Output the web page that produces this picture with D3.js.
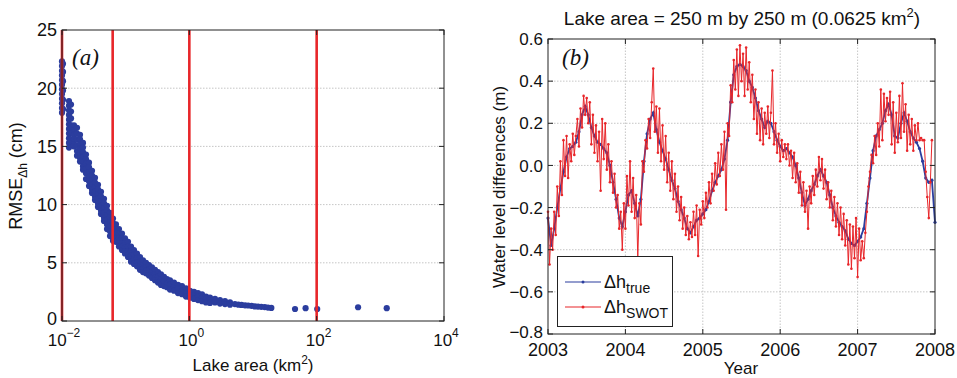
<!DOCTYPE html>
<html><head><meta charset="utf-8">
<script src="https://cdn.jsdelivr.net/npm/d3@7"></script>
<style>
body{margin:0;background:#fff}
text{font-family:"Liberation Sans",Arial,Helvetica,sans-serif;fill:#111}
</style></head>
<body><svg id="c" width="957" height="378"></svg>
<script>
// ---------------- Panel (a) data ----------------
const areaColumns = [0.0100,0.01037,0.01288,0.01385,0.01543,0.0172,0.01918,0.02137,0.02382,0.02656,
  0.0296,0.03299,0.03677,0.04098,0.04568,0.05091,0.05675,0.06324,0.07049,0.07856,
  0.08757,0.0976,0.1088,0.1213,0.1351,0.1506,0.1679,0.1871,0.2086,0.2325,
  0.2591,0.2888,0.3219,0.3588,0.3999,0.4457,0.4968,0.5742,0.6636,0.7668,
  0.8862,1.024,1.184,1.368,1.581,1.827,2.111,2.529,3.03,3.632,4.352];
const rmseColumns = [
  [22.3,21.9,21.5,21.1,20.7,20.3,19.9,19.5,19.1,18.7,18.3,17.9],
  [22.1,21.4,20.6,19.8,19.0,18.2],
  [18.9,18.5,18.1,17.7,17.3,16.9,16.5,16.1,15.7,15.3,14.9],
  [18.6,18.0,17.4,16.8,16.2,15.6],
  [16.8,16.4,16.0,15.6,15.2,15.0],
  [16.6,16.1,15.6,15.1,14.6,14.2],
  [16.0,15.6,15.2,14.8,14.4,14.0,13.7],
  [15.3,14.9,14.5,14.1,13.7,13.3,13.0],
  [14.3,13.9,13.5,13.1,12.7,12.2],
  [13.6,13.2,12.8,12.4,12.0,11.6],
  [12.9,12.5,12.1,11.7,11.3,11.0],
  [12.3,11.9,11.5,11.1,10.7,10.4],
  [11.7,11.3,10.9,10.5,10.1,9.8],
  [11.1,10.7,10.3,9.9,9.5,9.2],
  [10.5,10.1,9.7,9.3,8.9,8.6],
  [9.9,9.5,9.1,8.7,8.3,7.9],
  [9.3,8.9,8.5,8.1,7.7,7.3],
  [8.8,8.4,8.0,7.6,7.2,6.9],
  [8.3,7.9,7.5,7.1,6.8],
  [7.9,7.5,7.1,6.7,6.4],
  [7.5,7.1,6.7,6.4,6.1],
  [7.1,6.7,6.3,6.0,5.8],
  [6.8,6.4,6.0,5.7,5.5],
  [6.4,6.0,5.6,5.3,5.1],
  [6.1,5.7,5.3,4.9],
  [5.8,5.4,5.0,4.7],
  [5.5,5.1,4.7,4.4],
  [5.2,4.8,4.5,4.2],
  [5.0,4.6,4.3,4.1],
  [4.8,4.4,4.1,3.9],
  [4.6,4.2,3.9,3.7],
  [4.4,4.0,3.7,3.5],
  [4.2,3.8,3.5,3.3],
  [4.0,3.6,3.3,3.1],
  [3.8,3.4,3.0],
  [3.6,3.2,2.9],
  [3.5,3.1,2.7],
  [3.3,2.9,2.6],
  [3.1,2.8,2.4],
  [3.0,2.6,2.3],
  [2.8,2.4,2.1],
  [2.6,2.3,2.0],
  [2.5,2.2,1.9],
  [2.4,2.1,1.8],
  [2.3,2.0,1.7],
  [2.1,1.9,1.6],
  [2.0,1.8,1.55],
  [1.9,1.6],
  [1.8,1.5],
  [1.7,1.45],
  [1.6,1.4]
];
const sparseArea = [5.2,5.9,6.6,7.5,8.4,9.5,10.7,12.0,13.5,15.3,17.2,19.4,45.7,67,102,447,1260];
const sparseRmse = [1.45,1.4,1.38,1.35,1.33,1.3,1.25,1.24,1.22,1.2,1.15,1.12,1.03,1.1,1.03,1.18,1.1];
const markedAreas = [0.01, 0.0625, 1, 100];
const xTicksA = [0.01, 1, 100, 10000];
const xTickExpA = ["\u22122", "0", "2", "4"];
const yTicksA = [0, 5, 10, 15, 20, 25];

// ---------------- Panel (b) data ----------------
const trueValues = [-0.25,-0.38,-0.30,-0.20,-0.11,-0.03,0.04,0.08,0.09,0.11,
  0.16,0.24,0.28,0.24,0.18,0.14,0.11,0.10,0.08,0.06,
  0.00,-0.08,-0.16,-0.25,-0.29,-0.22,-0.14,-0.12,-0.18,-0.24,
  -0.16,0.02,0.15,0.22,0.25,0.17,0.11,0.07,0.03,-0.02,
  -0.07,-0.11,-0.17,-0.21,-0.25,-0.30,-0.32,-0.29,-0.26,-0.25,
  -0.23,-0.21,-0.17,-0.12,-0.08,-0.05,-0.02,0.03,0.12,0.30,
  0.43,0.47,0.48,0.47,0.45,0.40,0.37,0.32,0.26,0.22,
  0.18,0.21,0.20,0.16,0.12,0.09,0.07,0.08,0.06,0.04,
  0.00,-0.06,-0.13,-0.19,-0.16,-0.12,-0.09,-0.05,-0.02,-0.05,
  -0.08,-0.14,-0.20,-0.24,-0.27,-0.29,-0.31,-0.35,-0.37,-0.38,
  -0.36,-0.34,-0.30,-0.18,-0.06,0.07,0.14,0.17,0.20,0.26,
  0.29,0.24,0.14,0.13,0.20,0.25,0.21,0.16,0.13,0.11,
  0.08,0.02,-0.06,-0.08,-0.07,-0.27];
const trueStep = 0.04; // years between samples, starting 2003.0
const swotValues = [-0.22,-0.47,-0.30,-0.40,-0.22,-0.33,-0.10,-0.24,0.02,-0.14,
  0.12,-0.05,0.14,-0.06,0.10,0.02,0.15,0.05,0.14,0.22,
  0.09,0.27,0.18,0.33,0.24,0.32,0.20,0.30,0.10,0.24,
  0.06,0.19,0.02,0.16,-0.12,0.22,0.03,0.20,-0.02,0.10,
  -0.08,0.02,-0.13,-0.04,-0.20,-0.14,-0.30,-0.22,-0.40,-0.18,
  -0.30,-0.05,-0.19,0.02,-0.22,-0.06,-0.25,-0.14,-0.44,-0.18,
  -0.28,0.02,-0.03,0.12,0.08,0.22,0.13,0.30,0.46,0.16,
  0.28,0.06,0.27,0.02,0.19,-0.02,0.14,-0.08,0.06,-0.12,
  0.02,-0.16,-0.04,-0.22,-0.10,-0.26,-0.15,-0.30,-0.20,-0.33,
  -0.24,-0.35,-0.27,-0.34,-0.22,-0.33,-0.19,-0.43,-0.21,-0.28,
  -0.17,-0.25,-0.13,-0.20,-0.08,-0.18,-0.04,-0.12,0.01,-0.09,
  0.06,-0.05,0.10,-0.02,0.16,-0.21,0.20,0.14,0.38,0.30,
  0.50,0.36,0.55,0.33,0.57,0.40,0.53,0.33,0.56,0.36,
  0.49,0.30,0.43,0.22,0.36,0.15,0.30,0.12,0.27,0.10,
  0.25,0.15,0.28,0.13,0.25,0.45,0.10,0.20,0.06,0.15,
  0.02,0.12,0.04,0.10,0.03,0.10,0.00,0.07,-0.06,0.06,
  -0.08,0.01,-0.13,-0.03,-0.19,-0.08,-0.22,-0.12,-0.30,-0.10,
  -0.18,-0.05,-0.14,-0.02,-0.10,0.04,-0.07,0.03,-0.11,-0.02,
  -0.16,-0.08,-0.20,-0.12,-0.26,-0.15,-0.29,-0.18,-0.33,-0.20,
  -0.35,-0.23,-0.38,-0.26,-0.47,-0.28,-0.49,-0.29,-0.44,-0.25,
  -0.53,-0.30,-0.45,-0.36,-0.44,-0.32,-0.22,-0.10,-0.03,0.05,
  0.01,0.14,0.05,0.20,0.09,0.36,0.12,0.34,0.21,0.32,
  0.24,0.35,0.10,0.30,0.06,0.25,0.11,0.33,0.13,0.39,
  0.16,0.29,0.07,0.24,0.10,0.22,0.07,0.19,0.12,0.20,
  0.12,0.13,0.12,0.12,-0.03,-0.15,-0.25,-0.08,0.12];
const swotStep = 0.02;
const startYear = 2003;
const yearTicks = [2003, 2004, 2005, 2006, 2007, 2008];
const yTicksB = [-0.8, -0.6, -0.4, -0.2, 0.0, 0.2, 0.4, 0.6];
const titleB = "Lake area = 250 m by 250 m (0.0625 km";

// ---------------- drawing ----------------
const svg = d3.select("#c");
const BLUE = "#2b3d9e", RED = "#e8262a", GRID = "#b8b8b8";
const FS = 17;

function frame(g, x0, x1, y0, y1) {
  g.append("rect").attr("x", x0).attr("y", y0).attr("width", x1 - x0).attr("height", y1 - y0)
    .attr("fill", "none").attr("stroke", "#222").attr("stroke-width", 1);
}
function inwardTicks(g, xs, ys, x0, x1, y0, y1) {
  const L = 5;
  xs.forEach(px => {
    g.append("line").attr("x1", px).attr("x2", px).attr("y1", y1).attr("y2", y1 - L).attr("stroke", "#222");
    g.append("line").attr("x1", px).attr("x2", px).attr("y1", y0).attr("y2", y0 + L).attr("stroke", "#222");
  });
  ys.forEach(py => {
    g.append("line").attr("y1", py).attr("y2", py).attr("x1", x0).attr("x2", x0 + L).attr("stroke", "#222");
    g.append("line").attr("y1", py).attr("y2", py).attr("x1", x1).attr("x2", x1 - L).attr("stroke", "#222");
  });
}

// ===== Panel (a) =====
const xa = d3.scaleLog().domain([0.01, 10000]).range([62, 444]);
const ya = d3.scaleLinear().domain([0, 25]).range([321, 30]);
const ga = svg.append("g");

ga.selectAll(".gy").data(yTicksA.filter(v => v > 0 && v < 25)).join("line")
  .attr("x1", xa.range()[0]).attr("x2", xa.range()[1])
  .attr("y1", d => ya(d)).attr("y2", d => ya(d))
  .attr("stroke", GRID).attr("stroke-width", 0.8).attr("stroke-dasharray", "1.5,1.5");
ga.selectAll(".gx").data(xTicksA.slice(1, -1)).join("line")
  .attr("x1", d => xa(d)).attr("x2", d => xa(d))
  .attr("y1", ya.range()[0]).attr("y2", ya.range()[1])
  .attr("stroke", GRID).attr("stroke-width", 0.8).attr("stroke-dasharray", "1.5,1.5");

const ptsA = [];
areaColumns.forEach((a, i) => rmseColumns[i].forEach(v => ptsA.push([a, v])));
sparseArea.forEach((a, i) => ptsA.push([a, sparseRmse[i]]));
ga.selectAll(".pt").data(ptsA).join("circle")
  .attr("cx", d => xa(d[0])).attr("cy", d => ya(d[1])).attr("r", 3.1)
  .attr("fill", BLUE);

ga.selectAll(".rl").data(markedAreas).join("line")
  .attr("x1", d => xa(d)).attr("x2", d => xa(d))
  .attr("y1", ya(0)).attr("y2", ya(25))
  .attr("stroke", RED).attr("stroke-width", 2.6);

frame(ga, 62, 444, 30, 321);
inwardTicks(ga, xTicksA.map(xa), yTicksA.map(ya), 62, 444, 30, 321);

ga.selectAll(".yl").data(yTicksA).join("text")
  .attr("x", 57).attr("y", d => ya(d) - (d === 0 ? 2 : 0)).attr("dy", "0.36em")
  .attr("text-anchor", "end").attr("font-size", 18).text(d => d);
xTicksA.forEach((v, i) => {
  const t = ga.append("text").attr("x", xa(v) + 2).attr("y", 346).attr("text-anchor", "middle").attr("font-size", 17);
  t.append("tspan").text("10");
  t.append("tspan").attr("dy", -9).attr("font-size", 12).text(xTickExpA[i]);
});
{
  const t = ga.append("text").attr("x", 253).attr("y", 371).attr("text-anchor", "middle").attr("font-size", FS);
  t.append("tspan").text("Lake area (km");
  t.append("tspan").attr("dy", -7).attr("font-size", 12).text("2");
  t.append("tspan").attr("dy", 7).text(")");
}
{
  const t = ga.append("text").attr("transform", "translate(22,176) rotate(-90)")
    .attr("text-anchor", "middle").attr("font-size", 18);
  t.append("tspan").text("RMSE");
  t.append("tspan").attr("dy", 5).attr("font-size", 12).text("\u0394h");
  t.append("tspan").attr("dy", -5).text(" (cm)");
}
ga.append("text").attr("x", 72).attr("y", 65)
  .style("font-family", '"Liberation Serif","Times New Roman",serif').style("font-style", "italic")
  .attr("font-size", 23).text("(a)");

// ===== Panel (b) =====
const xb = d3.scaleLinear().domain([2003, 2008]).range([548, 935]);
const yb = d3.scaleLinear().domain([-0.8, 0.6]).range([334, 39]);
const gb = svg.append("g");

gb.selectAll(".gy").data(yTicksB.slice(1, -1)).join("line")
  .attr("x1", xb.range()[0]).attr("x2", xb.range()[1])
  .attr("y1", d => yb(d)).attr("y2", d => yb(d))
  .attr("stroke", GRID).attr("stroke-width", 0.8).attr("stroke-dasharray", "1.5,1.5");
gb.selectAll(".gx").data(yearTicks.slice(1, -1)).join("line")
  .attr("x1", d => xb(d)).attr("x2", d => xb(d))
  .attr("y1", yb.range()[0]).attr("y2", yb.range()[1])
  .attr("stroke", GRID).attr("stroke-width", 0.8).attr("stroke-dasharray", "1.5,1.5");

const trueData = trueValues.map((v, i) => [startYear + i * trueStep, v]);
const swotData = swotValues.map((v, i) => [startYear + i * swotStep, v]);
const line = d3.line().x(d => xb(d[0])).y(d => yb(d[1]));

gb.append("path").datum(trueData).attr("d", line).attr("fill", "none").attr("stroke", BLUE).attr("stroke-width", 1.8);
gb.selectAll(".tp").data(trueData).join("circle")
  .attr("cx", d => xb(d[0])).attr("cy", d => yb(d[1])).attr("r", 1.6).attr("fill", BLUE);
gb.append("path").datum(swotData).attr("d", line).attr("fill", "none").attr("stroke", RED).attr("stroke-width", 1);
gb.selectAll(".sp").data(swotData).join("circle")
  .attr("cx", d => xb(d[0])).attr("cy", d => yb(d[1])).attr("r", 1.3).attr("fill", RED);

frame(gb, 548, 935, 39, 334);
inwardTicks(gb, yearTicks.map(xb), yTicksB.map(yb), 548, 935, 39, 334);

gb.selectAll(".yl").data(yTicksB).join("text")
  .attr("x", 543).attr("y", d => yb(d) - (d === -0.8 ? 2 : 0)).attr("dy", "0.36em")
  .attr("text-anchor", "end").attr("font-size", FS)
  .text(d => (d < 0 ? "\u2212" : "") + Math.abs(d).toFixed(1));
gb.selectAll(".xl").data(yearTicks).join("text")
  .attr("x", d => xb(d)).attr("y", 356).attr("text-anchor", "middle").attr("font-size", 18)
  .text(d => d);
gb.append("text").attr("x", 741).attr("y", 374).attr("text-anchor", "middle").attr("font-size", FS).text("Year");
gb.append("text").attr("transform", "translate(505,187) rotate(-90)")
  .attr("text-anchor", "middle").attr("font-size", FS).text("Water level differences (m)");
{
  const t = gb.append("text").attr("x", 742).attr("y", 25).attr("text-anchor", "middle").attr("font-size", 19);
  t.append("tspan").text(titleB);
  t.append("tspan").attr("dy", -8).attr("font-size", 13).text("2");
  t.append("tspan").attr("dy", 8).text(")");
}
gb.append("text").attr("x", 562).attr("y", 65)
  .style("font-family", '"Liberation Serif","Times New Roman",serif').style("font-style", "italic")
  .attr("font-size", 23).text("(b)");

const lg = gb.append("g");
lg.append("rect").attr("x", 557.5).attr("y", 256.5).attr("width", 115).attr("height", 70)
  .attr("fill", "#fff").attr("stroke", "#222").attr("stroke-width", 1);
[["true", BLUE, 282], ["SWOT", RED, 307]].forEach(([sub, col, y]) => {
  lg.append("line").attr("x1", 565).attr("x2", 601).attr("y1", y).attr("y2", y).attr("stroke", col).attr("stroke-width", 1.2);
  lg.append("circle").attr("cx", 583).attr("cy", y).attr("r", 1.5).attr("fill", col);
  const t = lg.append("text").attr("x", 604).attr("y", y + 6).attr("font-size", 18);
  t.append("tspan").text("\u0394h");
  t.append("tspan").attr("dy", 5).attr("font-size", 14).text(sub);
});
</script></body></html>
